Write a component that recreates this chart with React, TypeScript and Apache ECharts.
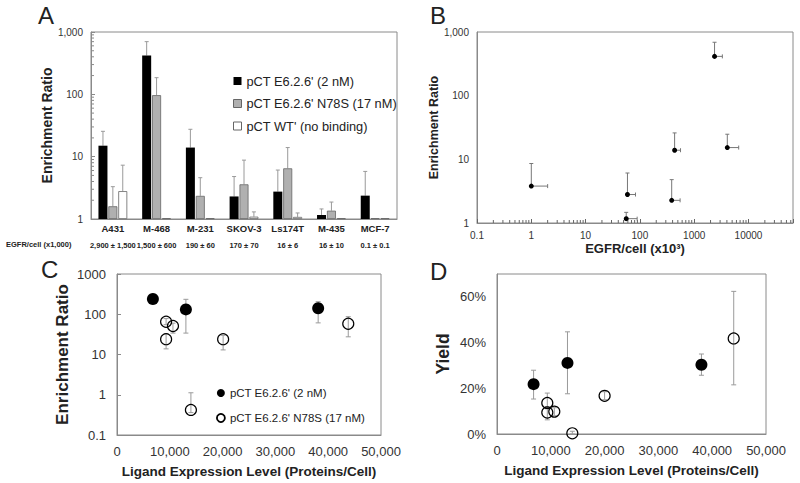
import React, { useEffect, useRef } from "react";
import * as echarts from "echarts";

// ---------- Panel A: bar chart ----------
const catsA = ["A431", "M-468", "M-231", "SKOV-3", "Ls174T", "M-435", "MCF-7"];
const egfrA = ["2,900 ± 1,500", "1,500 ± 600", "190 ± 60", "170 ± 70", "16 ± 6", "16 ± 10", "0.1 ± 0.1"];
const e626A = [15, 420, 14, 2.3, 2.75, 1.16, 2.37];
const e626AErr = [25.5, 700, 27.5, 4.8, 6.1, 1.45, 5.8];
const n78sA = [1.6, 97, 2.35, 3.6, 6.5, 1.36, 1.03];
const n78sAErr = [3.3, 185, 4.6, 8.8, 14, 1.87, null];
const wtA = [2.8, 1.03, 1.03, 1.09, 1.08, 1.03, 1.03];
const wtAErr = [7.3, null, null, 1.3, 1.25, null, null];
const yTicksA = [1, 10, 100, 1000];

// ---------- Panel B: EGFR vs enrichment ----------
const egfrB = [1, 59, 56, 385, 436, 2370, 4070];
const egfrBHi = [2.0, 83, 89, 550, 560, 3300, 6600];
const ratioB = [3.8, 2.8, 1.17, 2.27, 13.9, 414, 15.3];
const ratioBHi = [8.6, 6.1, 1.47, 4.8, 26, 690, 24.8];

// ---------- Panel C: ligand expression vs enrichment ----------
const ligFilledC = [6800, 13050, 38100];
const ratioFilledC = [240, 132, 141];
const ratioFilledCLo = [null, 34, 61];
const ratioFilledCHi = [null, 235, 205];
const ligOpenC = [9300, 10600, 9300, 20100, 14000, 43800];
const ratioOpenC = [65, 51, 24, 24, 0.42, 58];
const ratioOpenCLo = [55, 34, 13.8, 13, 0.36, 27.5];
const ratioOpenCHi = [78, 60, 33, 30, 1.12, 87];

// ---------- Panel D: ligand expression vs yield (%) ----------
const ligFilledD = [6800, 13100, 38000];
const yieldFilledD = [21.8, 31.1, 30.3];
const yieldFilledDLo = [15.3, 17.6, 25.7];
const yieldFilledDHi = [27.9, 44.7, 35];
const ligOpenD = [9350, 9350, 10650, 20000, 14000, 44000];
const yieldOpenD = [13.6, 9.4, 9.8, 16.7, 0.3, 41.8];
const yieldOpenDLo = [11, 6.2, 8, 15, 0, 21.5];
const yieldOpenDHi = [17.9, 12, 11.5, 18.5, 1.2, 62.4];

const seriesNames = ["pCT E6.2.6' (2 nM)", "pCT E6.2.6' N78S (17 nM)", "pCT WT' (no binding)"];

const FONT = "'Liberation Sans', Arial, sans-serif";
const AXIS = "#8a8a8a";
const TXT = "#222";
const ERR = "#9a9a9a";

const minorLog = (from: number, to: number, upTo?: number) => {
  const out: number[] = [];
  for (let d = from; d < to; d++) {
    for (let m = 2; m <= 9; m++) {
      const v = m * Math.pow(10, d);
      if (upTo === undefined || v <= upTo) out.push(v);
    }
  }
  return out;
};

const logLabel = (v: number, comma: boolean) => {
  const l = Math.log10(v);
  if (Math.abs(l - Math.round(l)) > 1e-6) return "";
  const p = Math.pow(10, Math.round(l));
  if (p < 1) return String(Number(p.toPrecision(1)));
  return comma ? Math.round(p).toLocaleString("en-US") : String(Math.round(p));
};

export default function App() {
  const ref = useRef<HTMLDivElement>(null);

  useEffect(() => {
    if (!ref.current) return;
    const chart = echarts.init(ref.current, undefined, { renderer: "svg" });

    const BAR_W = 9;
    const BAR_STEP = 9.9;
    const errA: any[] = [];
    [e626A, n78sA, wtA].forEach((vals, si) => {
      const errs = [e626AErr, n78sAErr, wtAErr][si];
      vals.forEach((v, ci) => {
        if (errs[ci] != null) errA.push([ci, si, v, errs[ci]]);
      });
    });

    const vErrItem = (params: any, api: any) => {
      const x = api.value(0);
      const lo = api.value(1);
      const hi = api.value(2);
      const pLo = api.coord([x, lo]);
      const pHi = api.coord([x, hi]);
      const c = 2.5;
      const st = { stroke: ERR, lineWidth: 1 };
      return {
        type: "group",
        children: [
          { type: "line", shape: { x1: pLo[0], y1: pLo[1], x2: pHi[0], y2: pHi[1] }, style: st },
          { type: "line", shape: { x1: pHi[0] - c, y1: pHi[1], x2: pHi[0] + c, y2: pHi[1] }, style: st },
          { type: "line", shape: { x1: pLo[0] - c, y1: pLo[1], x2: pLo[0] + c, y2: pLo[1] }, style: st },
        ],
      };
    };

    const mkErr = (xs: number[], lo: (number | null)[], hi: (number | null)[]) =>
      xs.map((x, i) => (lo[i] != null && hi[i] != null ? [x, lo[i], hi[i]] : null)).filter(Boolean);

    const valueAxisLabel = { fontSize: 13, color: "#333", fontFamily: FONT };

    const option: any = {
      animation: false,
      backgroundColor: "#fff",
      textStyle: { fontFamily: FONT },
      grid: [
        { left: 91, top: 32, width: 306, height: 187, show: true, borderColor: AXIS, borderWidth: 1, outerBoundsMode: "none" },
        { left: 477, top: 32, width: 316, height: 191, show: true, borderColor: AXIS, borderWidth: 1, outerBoundsMode: "none" },
        { left: 117, top: 274, width: 264, height: 161, show: true, borderColor: AXIS, borderWidth: 1, outerBoundsMode: "none" },
        { left: 497, top: 274, width: 269, height: 160, show: true, borderColor: AXIS, borderWidth: 1, outerBoundsMode: "none" },
      ],
      xAxis: [
        {
          gridIndex: 0,
          type: "category",
          data: catsA,
          axisLine: { lineStyle: { color: AXIS } },
          axisTick: { show: false },
          splitLine: { show: false },
          axisLabel: {
            interval: 0,
            margin: 1,
            formatter: (v: string, i: number) => `{a|${v}}\n{b|${egfrA[i]}}`,
            rich: {
              a: { fontSize: 9.5, fontWeight: "bold", lineHeight: 16, color: TXT, fontFamily: FONT },
              b: { fontSize: 7.5, fontWeight: "bold", lineHeight: 18, color: TXT, fontFamily: FONT },
            },
          },
        },
        {
          gridIndex: 1,
          type: "log",
          logBase: 10,
          min: 0.1,
          max: 66000,
          axisLine: { lineStyle: { color: AXIS } },
          axisTick: { show: true, inside: true, length: 4, lineStyle: { color: "#666" } },
          splitLine: { show: false },
          axisLabel: { fontSize: 10, margin: 7, color: "#333", formatter: (v: number) => logLabel(v, false) },
          name: "EGFR/cell (x10³)",
          nameLocation: "middle",
          nameGap: 19,
          nameTextStyle: { fontSize: 13, fontWeight: "bold", color: TXT },
        },
        {
          gridIndex: 2,
          type: "value",
          min: 0,
          max: 50000,
          interval: 10000,
          axisLine: { lineStyle: { color: AXIS } },
          axisTick: { show: false },
          splitLine: { show: false },
          axisLabel: { ...valueAxisLabel, margin: 10, formatter: (v: number) => v.toLocaleString("en-US") },
          name: "Ligand Expression Level (Proteins/Cell)",
          nameLocation: "middle",
          nameGap: 29,
          nameTextStyle: { fontSize: 13.5, fontWeight: "bold", color: TXT },
        },
        {
          gridIndex: 3,
          type: "value",
          min: 0,
          max: 50000,
          interval: 10000,
          axisLine: { lineStyle: { color: AXIS } },
          axisTick: { show: false },
          splitLine: { show: false },
          axisLabel: { ...valueAxisLabel, margin: 10, formatter: (v: number) => v.toLocaleString("en-US") },
          name: "Ligand Expression Level (Proteins/Cell)",
          nameLocation: "middle",
          nameGap: 29,
          nameTextStyle: { fontSize: 13.5, fontWeight: "bold", color: TXT },
        },
      ],
      yAxis: [
        {
          gridIndex: 0,
          type: "log",
          logBase: 10,
          min: yTicksA[0],
          max: yTicksA[yTicksA.length - 1],
          axisLine: { show: true, lineStyle: { color: AXIS } },
          axisTick: { show: true, inside: true, length: 4, lineStyle: { color: AXIS } },
          splitLine: { show: false },
          axisLabel: { fontSize: 10, margin: 8, color: "#333", formatter: (v: number) => logLabel(v, true) },
          name: "Enrichment Ratio",
          nameLocation: "middle",
          nameGap: 37,
          nameRotate: 90,
          nameTextStyle: { fontSize: 14, fontWeight: "bold", color: TXT },
        },
        {
          gridIndex: 1,
          type: "log",
          logBase: 10,
          min: 1,
          max: 1000,
          axisLine: { show: true, lineStyle: { color: AXIS } },
          axisTick: { show: false },
          splitLine: { show: false },
          axisLabel: { fontSize: 10, margin: 8, color: "#333", formatter: (v: number) => logLabel(v, true) },
          name: "Enrichment Ratio",
          nameLocation: "middle",
          nameGap: 36,
          nameRotate: 90,
          nameTextStyle: { fontSize: 12.5, fontWeight: "bold", color: TXT },
        },
        {
          gridIndex: 2,
          type: "log",
          logBase: 10,
          min: 0.1,
          max: 1000,
          axisLine: { show: true, lineStyle: { color: AXIS } },
          axisTick: { show: true, inside: true, length: 4, lineStyle: { color: AXIS } },
          splitLine: { show: false },
          axisLabel: { ...valueAxisLabel, margin: 11, formatter: (v: number) => logLabel(v, false) },
          name: "Enrichment Ratio",
          nameLocation: "middle",
          nameGap: 46,
          nameRotate: 90,
          nameTextStyle: { fontSize: 17, fontWeight: "bold", color: TXT },
        },
        {
          gridIndex: 3,
          type: "value",
          min: 0,
          max: 70,
          interval: 20,
          axisLine: { show: true, lineStyle: { color: AXIS } },
          axisTick: { show: false },
          splitLine: { show: false },
          axisLabel: { ...valueAxisLabel, margin: 11, formatter: (v: number) => (v % 20 === 0 ? `${v}%` : "") },
          name: "Yield",
          nameLocation: "middle",
          nameGap: 45,
          nameRotate: 90,
          nameTextStyle: { fontSize: 17.5, fontWeight: "bold", color: TXT },
        },
      ],
      legend: [
        {
          orient: "vertical",
          left: 228,
          top: 69,
          itemWidth: 8,
          itemHeight: 8,
          itemGap: 8.5,
          selectedMode: false,
          textStyle: { fontSize: 12.8, color: TXT, lineHeight: 14, fontFamily: FONT },
          data: [
            { name: seriesNames[0], icon: "rect", itemStyle: { color: "#000", borderWidth: 0, opacity: 1 } },
            { name: seriesNames[1], icon: "rect", itemStyle: { color: "#b0b0b0", borderColor: "#666", borderWidth: 1, opacity: 1 } },
            { name: seriesNames[2], icon: "rect", itemStyle: { color: "#fff", borderColor: "#666", borderWidth: 1, opacity: 1 } },
          ],
        },
        {
          orient: "vertical",
          left: 211,
          top: 381,
          itemWidth: 8,
          itemHeight: 8,
          itemGap: 11,
          selectedMode: false,
          textStyle: { fontSize: 11.5, color: TXT, lineHeight: 14, fontFamily: FONT },
          data: [
            { name: seriesNames[0], icon: "circle", itemStyle: { color: "#000", borderWidth: 0, opacity: 1 } },
            { name: seriesNames[1], icon: "circle", itemStyle: { color: "#fff", borderColor: "#000", borderWidth: 1.8, opacity: 1 } },
          ],
        },
      ],
      graphic: [
        { type: "text", left: 38, top: 3, style: { text: "A", fontSize: 24, fill: TXT, fontFamily: FONT } },
        { type: "text", left: 430, top: 3, style: { text: "B", fontSize: 24, fill: TXT, fontFamily: FONT } },
        { type: "text", left: 41, top: 257, style: { text: "C", fontSize: 24, fill: TXT, fontFamily: FONT } },
        { type: "text", left: 430, top: 259, style: { text: "D", fontSize: 24, fill: TXT, fontFamily: FONT } },
        {
          type: "text",
          left: 6,
          top: 240,
          style: { text: "EGFR/cell (x1,000)", fontSize: 7.5, fontWeight: "bold", fill: TXT, fontFamily: FONT },
        },
      ],
      series: [
        // Panel A bars
        {
          name: seriesNames[0],
          type: "bar",
          xAxisIndex: 0,
          yAxisIndex: 0,
          barWidth: BAR_W,
          barGap: "10%",
          data: e626A,
          itemStyle: { color: "#000" },
        },
        {
          name: seriesNames[1],
          type: "bar",
          xAxisIndex: 0,
          yAxisIndex: 0,
          barWidth: BAR_W,
          barGap: "10%",
          data: n78sA,
          itemStyle: { color: "#b0b0b0", borderColor: "#666", borderWidth: 0.8 },
        },
        {
          name: seriesNames[2],
          type: "bar",
          xAxisIndex: 0,
          yAxisIndex: 0,
          barWidth: BAR_W,
          barGap: "10%",
          data: wtA,
          itemStyle: { color: "#fff", borderColor: "#666", borderWidth: 0.8 },
        },
        // Panel A error bars (upward only)
        {
          type: "custom",
          xAxisIndex: 0,
          yAxisIndex: 0,
          encode: { x: 0, y: [2, 3] },
          data: errA,
          z: 1,
          renderItem: (params: any, api: any) => {
            const ci = api.value(0);
            const si = api.value(1);
            const p0 = api.coord([ci, api.value(2)]);
            const p1 = api.coord([ci, api.value(3)]);
            const x = p0[0] + (si - 1) * BAR_STEP;
            const st = { stroke: ERR, lineWidth: 1 };
            return {
              type: "group",
              children: [
                { type: "line", shape: { x1: x, y1: p0[1], x2: x, y2: p1[1] }, style: st },
                { type: "line", shape: { x1: x - 2, y1: p1[1], x2: x + 2, y2: p1[1] }, style: st },
              ],
            };
          },
        },
        // Panel A minor ticks on log y axis
        {
          type: "custom",
          xAxisIndex: 0,
          yAxisIndex: 0,
          encode: { x: 0, y: 1 },
          data: minorLog(0, 3).map((v) => [0, v]),
          silent: true,
          renderItem: (params: any, api: any) => {
            const y = api.coord([0, api.value(1)])[1];
            const x0 = params.coordSys.x;
            return { type: "line", shape: { x1: x0, y1: y, x2: x0 + 3, y2: y }, style: { stroke: AXIS, lineWidth: 1 } };
          },
        },
        // Panel B error bars (x to the right, y upward)
        {
          type: "custom",
          xAxisIndex: 1,
          yAxisIndex: 1,
          encode: { x: [0, 2], y: [1, 3] },
          data: egfrB.map((x, i) => [x, ratioB[i], egfrBHi[i], ratioBHi[i]]),
          renderItem: (params: any, api: any) => {
            const p = api.coord([api.value(0), api.value(1)]);
            const px = api.coord([api.value(2), api.value(1)]);
            const py = api.coord([api.value(0), api.value(3)]);
            const st = { stroke: "#777", lineWidth: 1 };
            return {
              type: "group",
              children: [
                { type: "line", shape: { x1: p[0], y1: p[1], x2: py[0], y2: py[1] }, style: st },
                { type: "line", shape: { x1: py[0] - 2, y1: py[1], x2: py[0] + 2, y2: py[1] }, style: st },
                { type: "line", shape: { x1: p[0], y1: p[1], x2: px[0], y2: px[1] }, style: st },
                { type: "line", shape: { x1: px[0], y1: px[1] - 2, x2: px[0], y2: px[1] + 2 }, style: st },
              ],
            };
          },
        },
        {
          type: "scatter",
          xAxisIndex: 1,
          yAxisIndex: 1,
          symbol: "circle",
          symbolSize: 5,
          itemStyle: { color: "#000", opacity: 1 },
          data: egfrB.map((x, i) => [x, ratioB[i]]),
          z: 3,
        },
        // Panel B minor ticks on log x axis
        {
          type: "custom",
          xAxisIndex: 1,
          yAxisIndex: 1,
          encode: { x: 0, y: 1 },
          data: minorLog(-1, 5, 60000).map((v) => [v, 1]),
          silent: true,
          renderItem: (params: any, api: any) => {
            const p = api.coord([api.value(0), 1]);
            return { type: "line", shape: { x1: p[0], y1: p[1], x2: p[0], y2: p[1] - 3 }, style: { stroke: "#666", lineWidth: 1 } };
          },
        },
        // Panel C
        {
          type: "custom",
          xAxisIndex: 2,
          yAxisIndex: 2,
          encode: { x: 0, y: [1, 2] },
          data: [...mkErr(ligFilledC, ratioFilledCLo, ratioFilledCHi), ...mkErr(ligOpenC, ratioOpenCLo, ratioOpenCHi)],
          renderItem: vErrItem,
          z: 1,
        },
        {
          name: seriesNames[0],
          type: "scatter",
          xAxisIndex: 2,
          yAxisIndex: 2,
          symbol: "circle",
          symbolSize: 12,
          itemStyle: { color: "#000", opacity: 1 },
          data: ligFilledC.map((x, i) => [x, ratioFilledC[i]]),
          z: 3,
        },
        {
          name: seriesNames[1],
          type: "scatter",
          xAxisIndex: 2,
          yAxisIndex: 2,
          symbol: "circle",
          symbolSize: 11,
          itemStyle: { color: "rgba(255,255,255,0)", borderColor: "#000", borderWidth: 1.2, opacity: 1 },
          data: ligOpenC.map((x, i) => [x, ratioOpenC[i]]),
          z: 3,
        },
        // Panel D
        {
          type: "custom",
          xAxisIndex: 3,
          yAxisIndex: 3,
          encode: { x: 0, y: [1, 2] },
          data: [...mkErr(ligFilledD, yieldFilledDLo, yieldFilledDHi), ...mkErr(ligOpenD, yieldOpenDLo, yieldOpenDHi)],
          renderItem: vErrItem,
          z: 1,
        },
        {
          name: seriesNames[0],
          type: "scatter",
          xAxisIndex: 3,
          yAxisIndex: 3,
          symbol: "circle",
          symbolSize: 12,
          itemStyle: { color: "#000", opacity: 1 },
          data: ligFilledD.map((x, i) => [x, yieldFilledD[i]]),
          z: 3,
        },
        {
          name: seriesNames[1],
          type: "scatter",
          xAxisIndex: 3,
          yAxisIndex: 3,
          symbol: "circle",
          symbolSize: 11,
          itemStyle: { color: "rgba(255,255,255,0)", borderColor: "#000", borderWidth: 1.2, opacity: 1 },
          data: ligOpenD.map((x, i) => [x, yieldOpenD[i]]),
          z: 3,
        },
      ],
    };

    chart.setOption(option);
    return () => chart.dispose();
  }, []);

  return <div ref={ref} style={{ position: "fixed", left: 0, top: 0, width: 800, height: 483 }} />;
}
